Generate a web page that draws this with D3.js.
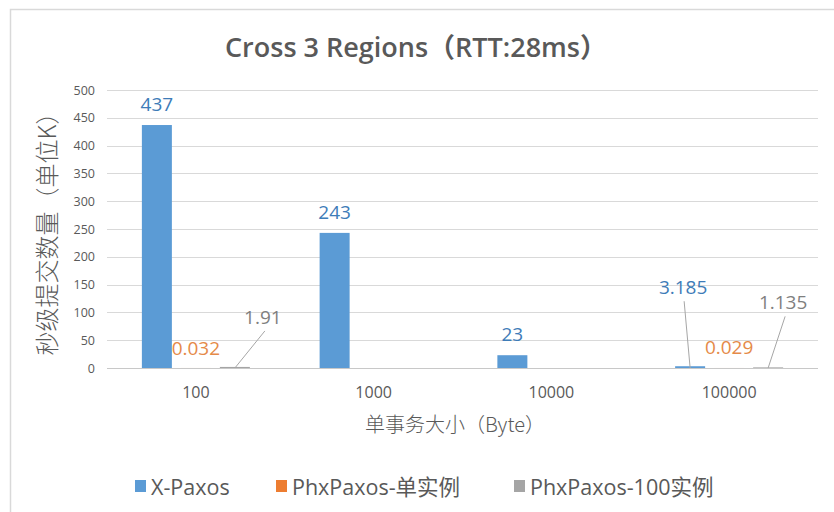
<!DOCTYPE html>
<html><head><meta charset="utf-8">
<script src="https://cdn.jsdelivr.net/npm/d3@7"></script>
<style>body{margin:0;background:#fff;} svg{display:block;}</style>
</head><body>
<svg id="c" width="834" height="512"></svg>
<script>
const categories = ["100", "1000", "10000", "100000"];
const seriesNames = ["X-Paxos", "PhxPaxos-单实例", "PhxPaxos-100实例"];
const xPaxos = [437, 243, 23, 3.185];
const phxSingle = [0.032, null, null, 0.029];
const phx100 = [1.91, null, null, 1.135];
const yTicks = [0, 50, 100, 150, 200, 250, 300, 350, 400, 450, 500];

const values = [xPaxos, phxSingle, phx100];
const colors = ["#5B9BD5", "#ED7D31", "#A5A5A5"];
const labelColors = ["#3E7CB8", "#E58A48", "#7F7F7F"];
const LAT = "'Open Sans','Noto Sans CJK SC',sans-serif";
const CJK = "'Noto Sans CJK SC','Open Sans',sans-serif";

const svg = d3.select("#c");
const W = 834, H = 512;
const m = {left:107, right:16, top:90, bottom:144};
const pw = W - m.left - m.right, ph = H - m.top - m.bottom;

// chart border
svg.append("path").attr("d", `M10.5,${H} V9.5 H${W}`).attr("fill","none").attr("stroke","#D9D9D9").attr("stroke-width",1.5);

const x0 = d3.scaleBand().domain(categories).range([0, pw]).padding(0);
const bw = x0.bandwidth();
const x1 = d3.scaleBand().domain(seriesNames).range([bw/2 - 54, bw/2 + 54]).paddingInner(9/39).paddingOuter(0);
const y = d3.scaleLinear().domain([0, 500]).range([ph, 0]);

const g = svg.append("g").attr("transform", `translate(${m.left},${m.top})`);

// gridlines
g.append("g").selectAll("line").data(yTicks).join("line")
  .attr("x1", 0).attr("x2", pw)
  .attr("y1", d => Math.round(y(d)) + 0.5).attr("y2", d => Math.round(y(d)) + 0.5)
  .attr("stroke", d => d === 0 ? "#C8C8C8" : "#D9D9D9").attr("stroke-width", 1);

// y axis
const yAxis = g.append("g").call(d3.axisLeft(y).tickValues(yTicks).tickSize(0).tickPadding(12));
yAxis.select(".domain").remove();
yAxis.selectAll("text").attr("font-family", LAT).attr("font-size", 12.5).attr("fill", "#595959");

// x axis
const xAxis = g.append("g").attr("transform", `translate(0,${ph})`).call(d3.axisBottom(x0).tickSize(0).tickPadding(19));
xAxis.select(".domain").remove();
xAxis.selectAll("text").attr("font-family", LAT).attr("font-size", 16).attr("fill", "#595959");

// bars
const flat = [];
values.forEach((arr, si) => arr.forEach((v, ci) => { if (v != null) flat.push({s: si, c: ci, v}); }));
g.append("g").selectAll("rect").data(flat).join("rect")
  .attr("x", d => x0(categories[d.c]) + x1(seriesNames[d.s]))
  .attr("width", x1.bandwidth())
  .attr("y", d => y(d.v))
  .attr("height", d => y(0) - y(d.v))
  .attr("fill", d => colors[d.s]);

// data labels: offsets (dx, dy) relative to bar top center; leader lines where labels were moved away
const labelOffsets = {
  "0-0": [0, -21], "0-1": [0, -21], "0-2": [0, -21], "0-3": [-7, -79],
  "1-0": [0, -20], "1-3": [0, -21],
  "2-0": [28, -50], "2-3": [15, -65]
};
const leaders = {"0-3": true, "2-0": true, "2-3": true};
flat.forEach(d => {
  const key = d.s + "-" + d.c;
  const off = labelOffsets[key];
  const cx = x0(categories[d.c]) + x1(seriesNames[d.s]) + x1.bandwidth()/2;
  const ty = y(d.v);
  const lx = cx + off[0], ly = ty + off[1];
  if (leaders[key]) {
    g.append("line").attr("x1", lx + (d.s === 0 ? 1 : 2)).attr("y1", ly + 14)
      .attr("x2", cx).attr("y2", y(0))
      .attr("stroke", "#A6A6A6").attr("stroke-width", 1);
  }
  g.append("text").attr("x", lx).attr("y", ly).attr("text-anchor", "middle")
    .attr("dominant-baseline", "central")
    .attr("font-family", LAT).attr("font-size", 19).attr("fill", labelColors[d.s])
    .text(String(d.v));
});

// title
svg.append("text").attr("x", 416).attr("y", 46).attr("text-anchor", "middle").attr("dominant-baseline","central")
  .attr("font-family", LAT).attr("font-size", 27).attr("font-weight", 600).attr("fill", "#595959")
  .text("Cross 3 Regions（RTT:28ms）");

// y title
svg.append("text").attr("transform", `translate(45,228) rotate(-90)`)
  .attr("text-anchor", "middle").attr("dominant-baseline","central")
  .attr("font-family", CJK).attr("font-size", 24).attr("font-weight", 300).attr("fill", "#595959")
  .text("秒级提交数量（单位K）");

// x title
svg.append("text").attr("x", 455).attr("y", 423).attr("text-anchor", "middle").attr("dominant-baseline","central")
  .attr("font-family", CJK).attr("font-size", 20).attr("font-weight", 300).attr("fill", "#595959")
  .text("单事务大小（Byte）");

// legend
const legendX = [135, 276, 514];
const lg = svg.append("g").selectAll("g").data(seriesNames).join("g")
  .attr("transform", (d, i) => `translate(${legendX[i]},486)`);
lg.append("rect").attr("x", 0).attr("y", -6).attr("width", 11).attr("height", 12).attr("fill", (d, i) => colors[i]);
lg.append("text").attr("x", 16).attr("y", 0).attr("dominant-baseline","central")
  .attr("font-family", LAT).attr("font-size", 21.5).attr("fill", "#595959").text(d => d);
</script>
</body></html>
